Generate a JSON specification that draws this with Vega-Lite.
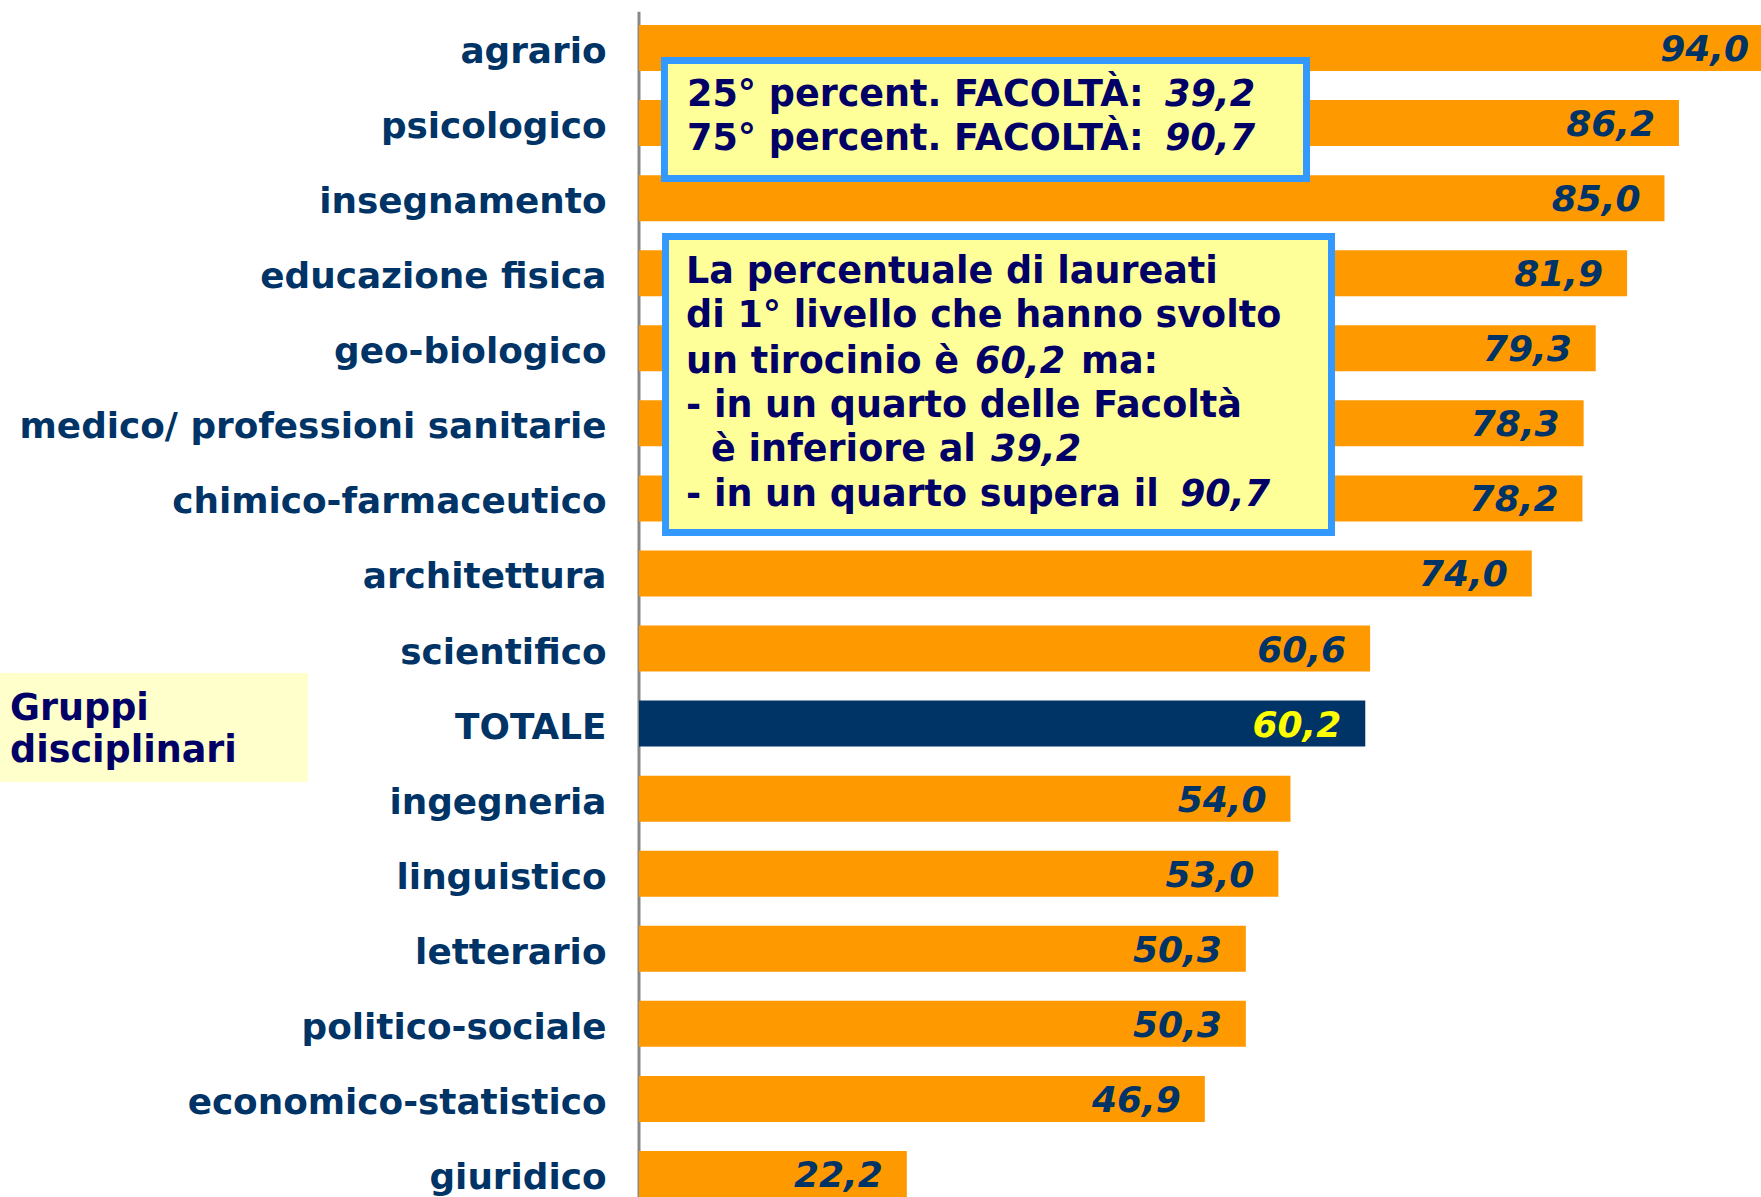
{
  "$schema": "https://vega.github.io/schema/vega-lite/v6.json",
  "width": 1122,
  "height": 1172,
  "autosize": {"type": "none"},
  "padding": {"left": 639, "top": 25, "right": 0, "bottom": 0},
  "background": "white",
  "config": {
    "view": {"stroke": null},
    "locale": {"number": {"decimal": ",", "thousands": ".", "grouping": [3], "currency": ["€", ""]}}
  },
  "datasets": {
    "gruppi": [
      {"gruppo": "agrario", "valore": 94.0},
      {"gruppo": "psicologico", "valore": 86.2},
      {"gruppo": "insegnamento", "valore": 85.0},
      {"gruppo": "educazione fisica", "valore": 81.9},
      {"gruppo": "geo-biologico", "valore": 79.3},
      {"gruppo": "medico/ professioni sanitarie", "valore": 78.3},
      {"gruppo": "chimico-farmaceutico", "valore": 78.2},
      {"gruppo": "architettura", "valore": 74.0},
      {"gruppo": "scientifico", "valore": 60.6},
      {"gruppo": "TOTALE", "valore": 60.2},
      {"gruppo": "ingegneria", "valore": 54.0},
      {"gruppo": "linguistico", "valore": 53.0},
      {"gruppo": "letterario", "valore": 50.3},
      {"gruppo": "politico-sociale", "valore": 50.3},
      {"gruppo": "economico-statistico", "valore": 46.9},
      {"gruppo": "giuridico", "valore": 22.2}
    ],
    "asse": [
      {"x": 0, "y": -0.18, "y2": 16}
    ],
    "riquadri": [
      {"x": 2.11, "x2": 55.33, "y": 0.485, "y2": 2.096},
      {"x": 2.2, "x2": 57.4, "y": 2.887, "y2": 6.928}
    ],
    "etichetta": [
      {"x": -52.96, "x2": -27.43, "y": 8.846, "y2": 10.334}
    ],
    "testi": [
      {"x": 3.98, "y": 1.106, "t": "25° percent. FACOLTÀ:"},
      {"x": 3.98, "y": 1.706, "t": "75° percent. FACOLTÀ:"},
      {"x": 3.9, "y": 3.522, "t": "La percentuale di laureati"},
      {"x": 3.9, "y": 4.123, "t": "di 1° livello che hanno svolto"},
      {"x": 3.9, "y": 4.751, "t": "un tirocinio è"},
      {"x": 36.63, "y": 4.751, "t": "ma:"},
      {"x": 3.9, "y": 5.352, "t": "- in un quarto delle Facoltà"},
      {"x": 5.97, "y": 5.952, "t": "è inferiore al"},
      {"x": 3.9, "y": 6.567, "t": "- in un quarto supera il"},
      {"x": -52.13, "y": 9.488, "t": "Gruppi"},
      {"x": -52.13, "y": 10.061, "t": "disciplinari"}
    ],
    "corsivi": [
      {"x": 43.6, "y": 1.106, "t": "39,2"},
      {"x": 43.6, "y": 1.706, "t": "90,7"},
      {"x": 27.85, "y": 4.751, "t": "60,2"},
      {"x": 29.18, "y": 5.952, "t": "39,2"},
      {"x": 44.84, "y": 6.567, "t": "90,7"}
    ]
  },
  "layer": [
    {
      "data": {"name": "asse"},
      "mark": {"type": "rule", "color": "#888888", "strokeWidth": 3},
      "encoding": {
        "x": {"field": "x", "type": "quantitative", "scale": {"domain": [0, 93], "nice": false}, "axis": null},
        "y": {"field": "y", "type": "quantitative", "scale": {"domain": [0, 16], "reverse": true, "nice": false, "zero": false}, "axis": null},
        "y2": {"field": "y2"}
      }
    },
    {
      "data": {"name": "gruppi"},
      "encoding": {
        "y": {
          "field": "gruppo", "type": "nominal", "sort": null,
          "scale": {"paddingInner": 0.387, "paddingOuter": 0},
          "axis": {
            "title": null, "ticks": false, "domain": false, "labelFontSize": 35.8, "labelFont": "DejaVu Sans",
            "labelFontWeight": "bold", "labelColor": "#003366", "labelPadding": 33,
            "labelLimit": 0, "labelOffset": 4
          }
        },
        "x": {"field": "valore", "type": "quantitative", "scale": {"domain": [0, 93], "nice": false}, "axis": null}
      },
      "layer": [
        {
          "mark": {"type": "bar", "clip": true},
          "encoding": {
            "color": {"condition": {"test": "datum.gruppo === 'TOTALE'", "value": "#003366"}, "value": "#FF9900"}
          }
        },
        {
          "mark": {"type": "text", "align": "right", "baseline": "middle", "dx": -24, "dy": 2,
                   "font": "DejaVu Sans", "fontSize": 36, "fontWeight": "bold", "fontStyle": "italic"},
          "encoding": {
            "text": {"field": "valore", "type": "quantitative", "format": ".1f"},
            "color": {"condition": {"test": "datum.gruppo === 'TOTALE'", "value": "#FFFF00"}, "value": "#003366"}
          }
        }
      ]
    },
    {
      "layer": [
        {
          "data": {"name": "etichetta"},
          "mark": {"type": "rect", "fill": "#FFFFCC"},
          "encoding": {
            "x": {"field": "x", "type": "quantitative", "scale": {"domain": [0, 93], "nice": false}, "axis": null},
            "x2": {"field": "x2"},
            "y": {"field": "y", "type": "quantitative", "scale": {"domain": [0, 16], "reverse": true, "nice": false, "zero": false}, "axis": null},
            "y2": {"field": "y2"}
          }
        },
        {
          "data": {"name": "riquadri"},
          "mark": {"type": "rect", "fill": "#FFFF99", "stroke": "#3399FF", "strokeWidth": 7},
          "encoding": {
            "x": {"field": "x", "type": "quantitative", "scale": {"domain": [0, 93], "nice": false}, "axis": null},
            "x2": {"field": "x2"},
            "y": {"field": "y", "type": "quantitative", "scale": {"domain": [0, 16], "reverse": true, "nice": false, "zero": false}, "axis": null},
            "y2": {"field": "y2"}
          }
        },
        {
          "data": {"name": "testi"},
          "mark": {"type": "text", "align": "left", "baseline": "alphabetic", "font": "DejaVu Sans",
                   "fontSize": 36.5, "fontWeight": "bold", "color": "#000066"},
          "encoding": {
            "x": {"field": "x", "type": "quantitative", "scale": {"domain": [0, 93], "nice": false}, "axis": null},
            "y": {"field": "y", "type": "quantitative", "scale": {"domain": [0, 16], "reverse": true, "nice": false, "zero": false}, "axis": null},
            "text": {"field": "t"}
          }
        },
        {
          "data": {"name": "corsivi"},
          "mark": {"type": "text", "align": "left", "baseline": "alphabetic", "font": "DejaVu Sans",
                   "fontSize": 36.5, "fontWeight": "bold", "fontStyle": "italic", "color": "#000066"},
          "encoding": {
            "x": {"field": "x", "type": "quantitative", "scale": {"domain": [0, 93], "nice": false}, "axis": null},
            "y": {"field": "y", "type": "quantitative", "scale": {"domain": [0, 16], "reverse": true, "nice": false, "zero": false}, "axis": null},
            "text": {"field": "t"}
          }
        }
      ]
    }
  ],
  "resolve": {"scale": {"y": "independent"}}
}
